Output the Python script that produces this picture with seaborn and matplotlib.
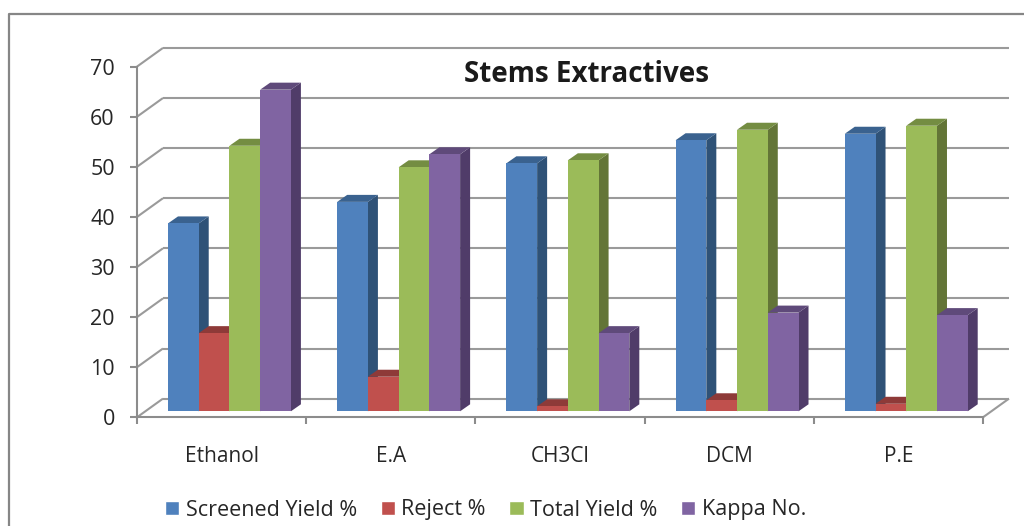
import matplotlib
matplotlib.use("Agg")
import matplotlib.pyplot as plt
from matplotlib.lines import Line2D
from matplotlib.patches import Polygon
import pandas as pd
import seaborn as sns

# Extractive solvents and the measured series
solvents = ["Ethanol", "E.A", "CH3Cl", "DCM", "P.E"]
screened_yield = [37.5, 41.8, 49.5, 54.1, 55.4]
reject = [15.6, 6.9, 1.0, 2.2, 1.5]
total_yield = [53.0, 48.7, 50.1, 56.2, 57.0]
kappa_no = [64.2, 51.3, 15.6, 19.7, 19.2]
series_names = ["Screened Yield %", "Reject %", "Total Yield %", "Kappa No."]
y_ticks = [0, 10, 20, 30, 40, 50, 60, 70]

face_colors = ["#4F81BD", "#C0504D", "#9BBB59", "#8064A2"]
top_colors = ["#3A628F", "#8E3A38", "#748D42", "#5F4A7A"]
side_colors = ["#2F5277", "#7F3331", "#637537", "#503C69"]
GRID = "#9A9A9A"
AXIS = "#8C8C8C"
TEXT = "#262626"

W, H = 1024, 526

sns.set_theme(style="white")
plt.rcParams["font.family"] = ["Open Sans", "DejaVu Sans"]

df = pd.DataFrame({
    "solvent": solvents * 4,
    "series": [s for s in series_names for _ in solvents],
    "value": screened_yield + reject + total_yield + kappa_no,
})

fig = plt.figure(figsize=(W / 100, H / 100), dpi=100)


def axes_box(left, right, top, bottom):
    """Axes rectangle from pixel edges measured from the top-left corner."""
    return [left / W, 1 - bottom / H, (right - left) / W, (bottom - top) / H]


# Front plane: carries the axis lines, ticks and labels
ax = fig.add_axes(axes_box(137, 983, 66.6, 417.3))
ax.set_xlim(-0.5, len(solvents) - 0.5)
ax.set_ylim(0, 70)
ax.set_zorder(1)

# Depth of the chart box, in front-plane data units
px_x = 846 / len(solvents)
px_y = (417.3 - 66.6) / 70
depth_x = 26 / px_x
depth_y = 18.7 / px_y
x0, x1 = ax.get_xlim()

line_kw = dict(color=GRID, lw=1.5, clip_on=False, solid_capstyle="butt", zorder=1)
for v in y_ticks:
    ax.plot([x0 + depth_x, x1 + depth_x], [v + depth_y] * 2, **line_kw)
    ax.plot([x0, x0 + depth_x], [v, v + depth_y], **line_kw)
ax.plot([x1, x1 + depth_x], [0, depth_y], **line_kw)

for name in ["top", "right"]:
    ax.spines[name].set_visible(False)
for name in ["left", "bottom"]:
    ax.spines[name].set_color(AXIS)
    ax.spines[name].set_linewidth(1.5)

ax.set_yticks(y_ticks)
ax.set_xticks([i - 0.5 for i in range(len(solvents) + 1)])
ax.set_xticklabels([])
ax.set_xticks(range(len(solvents)), labels=solvents, minor=True)
ax.tick_params(axis="y", which="major", length=5, width=1.5, color=AXIS, left=True,
               pad=11, labelsize=15.5, labelcolor=TEXT)
ax.tick_params(axis="x", which="major", length=5, width=1.5, color=AXIS, bottom=True)
ax.tick_params(axis="x", which="minor", length=0, pad=20.5, labelsize=15, labelcolor=TEXT)
ax.set_xlabel("")
ax.set_ylabel("")

# Bar plane: set back from the front plane by about a third of the depth
bar_ax = fig.add_axes(axes_box(137 + 7.85, 983 + 7.85, 66.6 - 6, 417.3 - 6))
bar_ax.set_zorder(2)
bar_ax.patch.set_alpha(0)
sns.barplot(
    data=df, x="solvent", y="value", hue="series", order=solvents,
    hue_order=series_names, palette=face_colors, width=0.7265, gap=0,
    saturation=1, errorbar=None, ax=bar_ax,
)
bar_ax.set_xlim(-0.5, len(solvents) - 0.5)
bar_ax.set_ylim(0, 70)
bar_ax.set_axis_off()

# Extrude each bar with a side and a top face
bar_dx = 10 / px_x
bar_dy = 7 / px_y
for h, container in enumerate(bar_ax.containers):
    for bar in container:
        bar.set_zorder(3 + h + 0.5)
        bar.set_linewidth(0)
        xl, xr = bar.get_x(), bar.get_x() + bar.get_width()
        top = bar.get_height()
        bar_ax.add_patch(Polygon(
            [(xr, 0), (xr + bar_dx, bar_dy), (xr + bar_dx, top + bar_dy), (xr, top)],
            closed=True, fc=side_colors[h], ec="none", zorder=3 + h, clip_on=False,
        ))
        bar_ax.add_patch(Polygon(
            [(xl, top), (xl + bar_dx, top + bar_dy), (xr + bar_dx, top + bar_dy), (xr, top)],
            closed=True, fc=top_colors[h], ec="none", zorder=3 + h, clip_on=False,
        ))

sns.move_legend(
    bar_ax, "center left", bbox_to_anchor=(165 / W, 1 - 510 / H),
    bbox_transform=fig.transFigure, ncol=4, title=None, frameon=False,
    fontsize=15.5, borderpad=0, borderaxespad=0, handlelength=0.66,
    handleheight=0.66, handletextpad=0.3, columnspacing=1.1, labelcolor=TEXT,
)

fig.text(586 / W, 1 - 75 / H, "Stems Extractives", ha="center", va="center",
         fontsize=20, fontweight="bold", color="#1A1A1A")

# Outer chart border, running off the right and bottom edges
border = Line2D([9 / W, 9 / W, 1], [0, 1 - 14 / H, 1 - 14 / H],
                transform=fig.transFigure, color="#868686", lw=1.6)
fig.add_artist(border)

fig.savefig("out.png", dpi=100)
